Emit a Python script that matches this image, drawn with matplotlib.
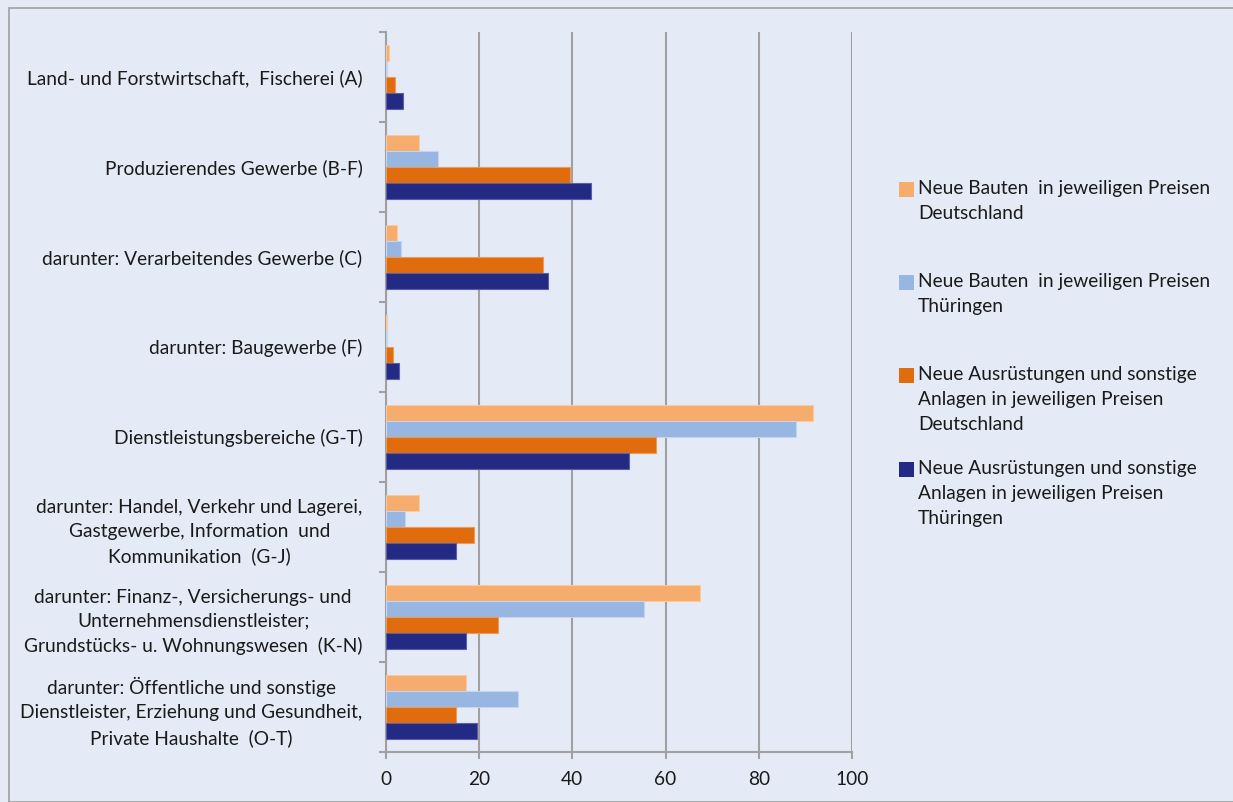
import matplotlib
matplotlib.use("Agg")
import matplotlib.pyplot as plt
import numpy as np
from matplotlib.patches import Patch, Rectangle
from matplotlib.legend_handler import HandlerPatch

plt.rcParams['font.family'] = ['Lato', 'DejaVu Sans']

categories = [
    "Land- und Forstwirtschaft,  Fischerei (A)",
    "Produzierendes Gewerbe (B-F)",
    "darunter: Verarbeitendes Gewerbe (C)",
    "darunter: Baugewerbe (F)",
    "Dienstleistungsbereiche (G-T)",
    "darunter: Handel, Verkehr und Lagerei,\nGastgewerbe, Information  und\nKommunikation  (G-J)",
    "darunter: Finanz-, Versicherungs- und\nUnternehmensdienstleister;\nGrundstücks- u. Wohnungswesen  (K-N)",
    "darunter: Öffentliche und sonstige\nDienstleister, Erziehung und Gesundheit,\nPrivate Haushalte  (O-T)",
]

series_labels = [
    "Neue Bauten  in jeweiligen Preisen\nDeutschland",
    "Neue Bauten  in jeweiligen Preisen\nThüringen",
    "Neue Ausrüstungen und sonstige\nAnlagen in jeweiligen Preisen\nDeutschland",
    "Neue Ausrüstungen und sonstige\nAnlagen in jeweiligen Preisen\nThüringen",
]

bauten_de = [0.7, 7.1, 2.3, 0.2, 91.7, 7.1, 67.3, 17.1]
bauten_th = [0.3, 11.2, 3.3, 0.3, 88.0, 4.0, 55.3, 28.4]
ausr_de = [2.0, 39.4, 33.7, 1.6, 58.0, 18.9, 24.0, 15.1]
ausr_th = [3.7, 44.0, 34.7, 2.7, 52.2, 15.1, 17.1, 19.5]

xticks = [0, 20, 40, 60, 80, 100]

colors = ["#F6AC6C", "#97B6E2", "#E06C0D", "#232A83"]
edgecolors = ["#F9C9A0", "#C3D5F0", "#EE9A55", "#5A60A8"]
bg = "#E4EBF7"
fs = 13.8
lsp = 1.57
lsp_y = 1.5

W, H = 1233, 802
fig = plt.figure(figsize=(W / 100, H / 100), dpi=100, facecolor=bg)
# outer frame
fig.patches.append(Rectangle((9 / W, 0), 1.2, 1 - 7.5 / H, transform=fig.transFigure,
                             fill=False, edgecolor="#A0A0A0", linewidth=1.2, zorder=0))

left, right = 386 / W, 852 / W
top, bottom = 1 - 31.7 / H, 1 - 751.7 / H
ax = fig.add_axes([left, bottom, right - left, top - bottom])
ax.set_facecolor(bg)

n = len(categories)
y = np.arange(n)
bh = 16 / 90
all_series = [bauten_de, bauten_th, ausr_de, ausr_th]
for i, (vals, c, ec) in enumerate(zip(all_series, colors, edgecolors)):
    offs = (i - 1.5) * bh
    ax.barh(y + offs, vals, height=bh, color=c, edgecolor=ec, linewidth=0.8, zorder=3,
            label=series_labels[i])

ax.set_ylim(n - 0.5, -0.5)
ax.set_xlim(0, 100)
ax.set_xticks(xticks)
ax.set_xticklabels([str(v) for v in xticks])
ax.set_yticks(y)
ax.set_yticklabels(categories)
ax.set_yticks(np.arange(-0.5, n, 1.0), minor=True)

for t in ax.get_yticklabels():
    t.set_multialignment('center')
    t.set_linespacing(lsp_y)

ax.tick_params(axis='y', which='major', length=0, pad=17, labelsize=fs, labelcolor="#1a1a1a")
ax.tick_params(axis='y', which='minor', length=5, width=1.5, color="#A0A0A0", direction='out')
ax.tick_params(axis='x', which='major', length=5, width=1.5, color="#A0A0A0", direction='out',
               pad=9, labelsize=fs, labelcolor="#1a1a1a")

for s in ['top', 'right']:
    ax.spines[s].set_visible(False)
for s in ['left', 'bottom']:
    ax.spines[s].set_color("#A0A0A0")
    ax.spines[s].set_linewidth(1.5)

ax.xaxis.grid(True, color="#A0A0A0", linewidth=1.5, zorder=0)
ax.set_axisbelow(True)

# legend: every entry padded to 3 lines, handle aligned to first line
NL = 3

def make_handler():
    def patch_func(legend, orig_handle, xdescent, ydescent, width, height, fontsize):
        sq = fontsize * 0.78
        line_step = fontsize * 0.83 * lsp
        yc = -ydescent + height / 2 + (NL - 1) / 2 * line_step
        return Rectangle((-xdescent + width - sq, yc - sq / 2 - 0.5), sq, sq)
    return HandlerPatch(patch_func=patch_func)

leg_labels = [l + "\n" * (NL - 1 - l.count("\n")) for l in series_labels]
handles = [Patch(facecolor=c, edgecolor='none', label=l) for c, l in zip(colors, leg_labels)]
hmap = {h: make_handler() for h in handles}
leg = fig.legend(handles=handles, loc='upper left', bbox_to_anchor=(896 / W, 1 - 180 / H),
                 frameon=False, fontsize=fs, handler_map=hmap, handlelength=0.95,
                 handletextpad=0.2, labelspacing=1.37, borderpad=0, borderaxespad=0)
for t in leg.get_texts():
    t.set_linespacing(lsp)
    t.set_color("#1a1a1a")

fig.savefig("out.png", dpi=100, facecolor=bg)
